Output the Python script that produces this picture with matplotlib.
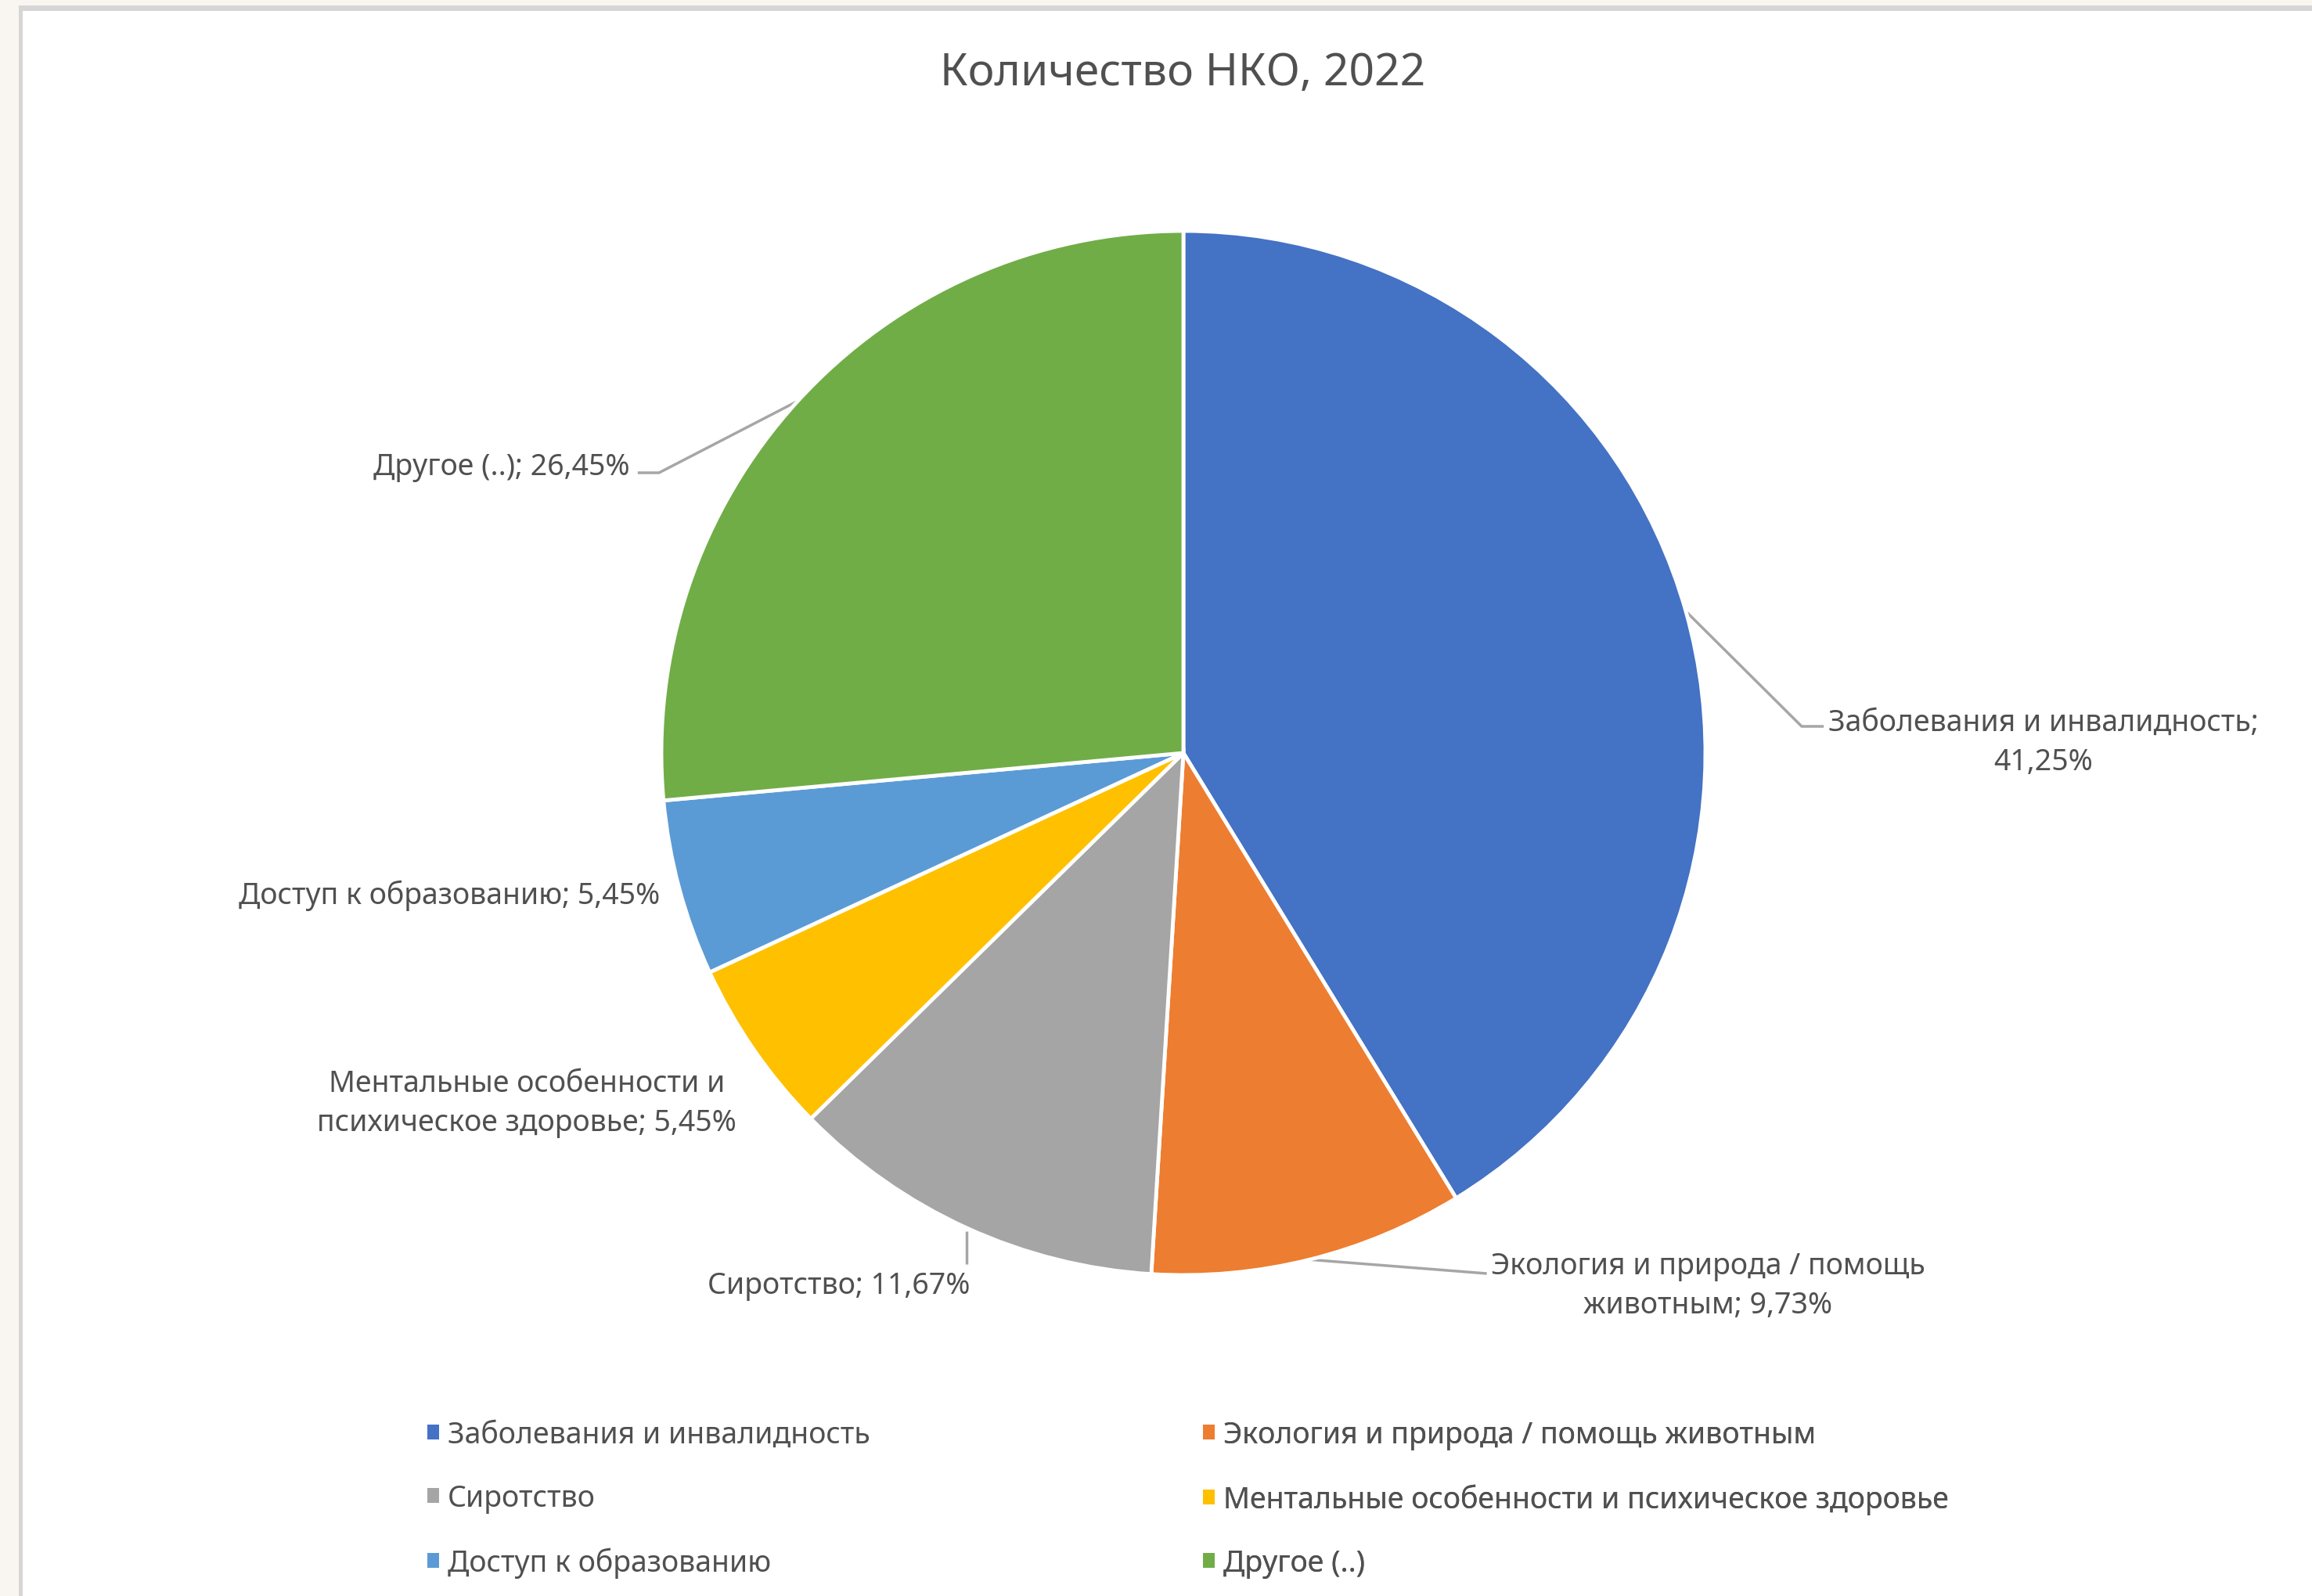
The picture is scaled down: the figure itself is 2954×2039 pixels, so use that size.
import matplotlib
matplotlib.use("Agg")
import matplotlib.pyplot as plt
from matplotlib.patches import Rectangle
import numpy as np

plt.rcParams['font.family'] = ['Noto Sans', 'DejaVu Sans']

W, H = 2954, 2040

categories = ["Заболевания и инвалидность",
              "Экология и природа / помощь животным",
              "Сиротство",
              "Ментальные особенности и психическое здоровье",
              "Доступ к образованию",
              "Другое (..)"]
values = [41.25, 9.73, 11.67, 5.45, 5.45, 26.45]
colors = ["#4472C4", "#ED7D31", "#A5A5A5", "#FFC000", "#5B9BD5", "#70AD47"]
title = "Количество НКО, 2022"

# label placement in image pixels (x, y), text after which the label wraps, leader line?
label_pos = [(2611, 949), (2182, 1643), (1072, 1643), (673, 1410), (574, 1144), (641, 597)]
label_break = ["инвалидность;", "помощь", None, "особенности и", None, None]
leader = [True, True, True, False, False, True]

TXT = "#505050"
FS = 27

fig = plt.figure(figsize=(W / 100, H / 100), dpi=100, facecolor="#F9F5F1")
ax = fig.add_axes([0, 0, 1, 1])
ax.set_facecolor("none")

cx, cy, R = 1512, H - 963, 667
wedges, _ = ax.pie(values, colors=colors, startangle=90, counterclock=False,
                   center=(cx, cy), radius=R,
                   wedgeprops=dict(edgecolor="white", linewidth=3.5))
ax.set_xlim(0, W)
ax.set_ylim(0, H)
ax.set_aspect("equal")
ax.axis("off")

# screenshot frame
ax.add_patch(Rectangle((24, 0), W, H - 8, facecolor="#D6D6D6", edgecolor="none", zorder=-10))
ax.add_patch(Rectangle((29, 0), W, H - 15, facecolor="white", edgecolor="none", zorder=-9))


def fmt(v):
    return f"{v:.2f}".replace(".", ",") + "%"


for i, (w, cat, v) in enumerate(zip(wedges, categories, values)):
    txt = f"{cat}; {fmt(v)}"
    if label_break[i]:
        k = txt.find(label_break[i]) + len(label_break[i])
        txt = txt[:k] + "\n" + txt[k + 1:]
    lx, ly = label_pos[i]
    t = ax.text(lx, H - ly, txt, ha="center", va="center", fontsize=FS, color=TXT,
                linespacing=1.4)
    if leader[i]:
        ang = np.deg2rad((w.theta1 + w.theta2) / 2)
        sx, sy = cx + R * np.cos(ang), cy + R * np.sin(ang)
        fig.canvas.draw()
        bb = t.get_window_extent().transformed(ax.transData.inverted())
        if i == 0:
            pts = [(sx, sy), (2302, H - 929), (bb.x0 - 6, H - 929)]
        elif i == 1:
            pts = [(sx, sy), (bb.x0 - 5, H - 1628)]
        elif i == 2:
            pts = [(sx, sy - 4), (sx, bb.y1 + 8)]
        else:
            pts = [(sx, sy), (842, H - 605), (bb.x1 + 10, H - 605)]
        xs, ys = zip(*pts)
        ax.plot(xs, ys, color="#A6A6A6", lw=2.5, solid_capstyle="butt", zorder=0.5)

ax.text(1511, H - 94, title, ha="center", va="center", fontsize=41, color=TXT)

# legend in two columns
for col, idx, x0 in [(0, [0, 2, 4], 546), (1, [1, 3, 5], 1537)]:
    lg = ax.legend([wedges[j] for j in idx], [categories[j] for j in idx],
                   loc="center left", bbox_to_anchor=(x0 / W, 1 - 1916 / H),
                   bbox_transform=fig.transFigure, frameon=False, fontsize=FS,
                   handlelength=0.4, handleheight=0.4, handletextpad=0.3,
                   labelspacing=1.15, borderpad=0, borderaxespad=0, labelcolor=TXT)
    for h in lg.legend_handles:
        h.set_edgecolor("none")
    ax.add_artist(lg)

fig.savefig("out.png", dpi=100, facecolor=fig.get_facecolor())
